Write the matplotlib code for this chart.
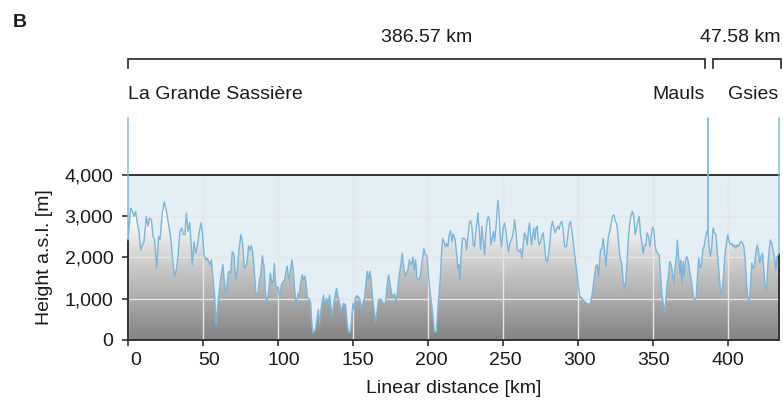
import numpy as np
import matplotlib
matplotlib.use("Agg")
import matplotlib.pyplot as plt
from matplotlib.colors import LinearSegmentedColormap
from matplotlib.transforms import ScaledTranslation, blended_transform_factory
from matplotlib.ticker import FuncFormatter

plt.rcParams['font.family'] = ['Liberation Sans', 'DejaVu Sans']

# ---------------- data ----------------
segment_lengths_km = [386.57, 47.58]
segment_labels = ['386.57 km', '47.58 km']
place_start, place_junction, place_end = 'La Grande Sassière', 'Mauls', 'Gsies'

seg1_km = [0.0, 1.8, 2.9, 4.0, 5.1, 6.2, 7.3, 8.4, 9.6, 10.7, 12.2, 13.3, 14.4, 15.6, 16.7, 17.8,
           19.1, 20.4, 21.3, 22.9, 24.2, 25.6, 26.9, 28.4, 29.8, 31.1, 32.4, 33.3, 34.7, 35.8, 36.9,
           38.0, 38.9, 40.0, 41.1, 42.2, 42.9, 44.0, 45.1, 46.2, 47.6, 48.7, 49.8, 50.7, 52.0, 52.9,
           53.8, 54.7, 55.6, 56.4, 57.8, 58.7, 59.8, 60.7, 62.0, 63.3, 64.0, 65.1, 66.2, 67.1, 68.4,
           69.6, 70.7]
seg1_m = [2420, 3190, 3110, 2990, 3110, 2830, 2630, 2180, 2300, 2380, 2990, 2750, 2950, 2910, 2500,
          2420, 1740, 2500, 2420, 3070, 3340, 3110, 2830, 2500, 1940, 1540, 1740, 2020, 2630, 2710,
          2550, 2550, 3070, 2630, 2840, 2260, 1820, 2380, 2100, 2260, 2630, 2840, 2500, 2060, 1940,
          1980, 1900, 1820, 1940, 1620, 1050, 360, 810, 1130, 1540, 1820, 1500, 1130, 1370, 1660,
          1620, 2140, 2060]

seg2_km = [71.8, 72.9, 74.0, 75.3, 76.4, 77.6, 78.7, 79.6, 80.4, 81.3, 82.2, 83.1, 84.0, 85.3, 86.7,
           87.6, 88.4, 89.6, 90.7, 91.6, 92.4, 93.6, 94.9, 96.0, 96.9, 97.6, 98.4, 99.1, 100.2, 101.1,
           102.2, 103.3, 104.4, 105.6, 106.2, 107.1, 108.2, 109.3, 110.2, 111.1, 112.2, 113.3, 114.0,
           115.1, 116.2, 117.1, 118.0, 118.9, 119.6, 120.7, 121.8, 122.4, 123.3, 124.2, 125.1, 126.0,
           126.9, 127.8, 128.7, 129.6, 130.4, 131.3, 132.4, 133.6, 134.4, 135.3, 136.2, 137.3, 138.2,
           139.1, 140.0, 141.3, 142.4, 143.6]
seg2_m = [1450, 1700, 2180, 2550, 2340, 1740, 1780, 1940, 2280, 2180, 2280, 2140, 1780, 1130, 1130,
          1450, 1540, 2040, 1780, 1210, 890, 1130, 1620, 1370, 1450, 1860, 1370, 1250, 1280, 1010,
          1330, 1410, 1450, 1700, 1780, 1450, 1660, 1940, 1700, 1250, 810, 1130, 1050, 1370, 1580,
          1450, 1550, 1330, 1010, 1010, 890, 490, 180, 200, 280, 490, 730, 360, 730, 930, 1090, 810,
          1010, 890, 1090, 810, 570, 890, 1090, 1250, 1050, 850, 690, 890]

seg3_km = [145.1, 146.2, 147.1, 148.2, 149.1, 150.0, 150.7, 151.6, 152.4, 153.6, 154.7, 155.8, 156.9,
           157.8, 158.7, 159.6, 160.4, 161.3, 162.2, 163.1, 164.4, 165.3, 166.2, 167.1, 168.4, 169.6,
           170.7, 171.8, 172.9, 173.8, 174.7, 175.8, 176.9, 177.8, 178.7, 179.6, 180.7, 181.8, 182.9,
           184.0, 185.1, 185.8, 186.7, 187.6, 188.4, 189.3, 190.0, 190.9, 191.8, 192.7, 193.8, 194.9,
           196.0, 197.3, 198.4, 199.3, 200.2, 201.3, 202.4, 203.6, 204.4, 205.6, 206.2, 207.1, 208.2,
           209.1, 209.8, 210.7, 211.6, 212.4, 213.3, 214.2, 215.1, 216.0, 216.9]
seg3_m = [850, 400, 180, 200, 490, 890, 730, 1010, 1070, 1050, 970, 730, 930, 1010, 1370, 1660, 1450,
          1660, 1450, 1010, 650, 440, 730, 970, 990, 930, 850, 930, 1370, 1580, 1370, 1120, 1050, 1120,
          910, 1130, 1540, 1780, 2100, 1700, 1540, 1620, 1700, 1940, 1820, 1880, 2000, 1700, 1940,
          1500, 1450, 1540, 1860, 2210, 2060, 2040, 1620, 1210, 890, 490, 200, 200, 490, 970, 1450,
          2100, 2460, 2380, 2260, 2330, 2260, 2550, 2650, 2380, 2570]

seg4_km = [218.2, 219.1, 220.0, 220.7, 221.3, 222.2, 223.1, 224.2, 225.1, 225.8, 226.7, 227.6, 228.4,
           229.3, 230.2, 231.1, 232.0, 232.9, 233.3, 234.2, 235.1, 236.0, 236.9, 237.8, 238.7, 239.6,
           240.4, 241.1, 242.0, 242.9, 243.8, 244.4, 245.3, 246.2, 246.7, 247.3, 248.2, 249.1, 250.2,
           251.1, 252.0, 252.9, 253.8, 254.7, 255.6, 256.4, 257.3, 257.8, 258.7, 259.6, 260.7, 261.8,
           262.7, 263.6, 264.4, 265.3, 266.2, 267.1, 267.8, 268.4, 269.1, 269.8, 270.7, 271.3, 272.2,
           272.9, 273.6, 274.2, 275.1, 276.0, 276.9, 277.8, 278.7, 279.6, 280.4, 281.3, 282.2, 283.1,
           284.0, 284.9, 285.8, 286.7, 287.6, 288.4, 289.3, 290.2, 291.1]
seg4_m = [2420, 2100, 1740, 1820, 1450, 2100, 2460, 2460, 2420, 2180, 2510, 2830, 2890, 2750, 2300,
          2260, 2630, 2910, 3070, 2670, 2180, 2750, 2380, 2060, 2590, 2910, 2990, 2870, 2300, 2460,
          2630, 2380, 2670, 3150, 3380, 3150, 2510, 2260, 2710, 2830, 2630, 2340, 2140, 2340, 2420,
          2510, 2710, 2910, 2630, 2180, 2140, 2200, 1980, 2300, 2590, 2510, 2300, 2670, 2830, 2550,
          2300, 2510, 2710, 2420, 2710, 2750, 2420, 2300, 2380, 2510, 2590, 2260, 1940, 1900, 2060,
          2340, 2710, 2870, 2710, 2590, 2680, 2750, 2680, 2830, 2870, 2670, 2300]

seg5_km = [291.6, 292.4, 293.3, 294.2, 295.1, 296.0, 296.9, 297.8, 298.7, 299.6, 300.4, 301.3, 302.2,
           303.1, 304.0, 304.9, 305.8, 306.7, 307.6, 308.4, 309.3, 310.2, 311.1, 312.0, 312.9, 313.8,
           314.4, 315.1, 316.0, 316.9, 317.8, 318.7, 319.6, 320.4, 321.3, 322.2, 323.1, 324.0, 324.9,
           325.8, 326.7, 327.6, 328.4, 329.3, 330.2, 331.1, 332.0, 332.9, 333.8, 334.7, 335.6, 336.4,
           337.3, 338.2, 339.1, 340.0, 340.9, 341.8, 342.7, 343.6, 344.4, 345.3, 346.2, 347.1, 348.0,
           348.9, 349.8, 350.7, 351.6, 352.4, 353.3, 354.2, 355.1, 356.0, 356.9, 357.8, 358.7, 359.6,
           360.4, 361.3, 362.2, 363.1]
seg5_m = [2250, 2260, 2510, 2790, 2870, 2630, 2380, 2100, 1820, 1540, 1290, 1070, 1030, 990, 950, 910,
          890, 870, 870, 890, 1050, 1290, 1540, 1780, 1820, 1540, 1820, 2180, 2200, 2460, 2180, 1780,
          2220, 2510, 2630, 2790, 2990, 3030, 2870, 2830, 2590, 2180, 1940, 1860, 1450, 1230, 1450,
          1940, 2510, 2830, 3030, 3110, 2990, 2550, 2680, 2870, 2990, 2550, 2340, 2100, 2300, 2280,
          2590, 2510, 2260, 2510, 2730, 2670, 2260, 2140, 2100, 2060, 1620, 1130, 890, 660, 970, 1370,
          1540, 1900, 1820, 1620]

seg6_km = [364.0, 364.9, 365.8, 366.4, 367.1, 368.0, 368.7, 369.3, 370.2, 370.9, 371.8, 372.7, 373.6,
           374.4, 375.3, 376.2, 377.1, 378.0, 378.9, 379.8, 380.7, 381.6, 382.4, 383.3, 384.2, 385.1,
           386.0, 386.9, 387.8, 388.4, 389.3, 390.2, 391.1, 392.0, 392.9, 393.8, 394.7, 395.6, 396.4,
           397.3, 398.2, 399.1, 400.0, 400.9, 401.8, 402.7, 403.6, 404.4, 405.3, 406.2, 407.1, 408.0,
           408.9, 409.8, 410.7, 411.6, 412.4, 413.3, 414.2, 415.1, 416.0, 416.9, 417.8, 418.7, 419.6,
           420.4, 421.3, 422.2, 423.1, 424.0, 424.9, 425.8, 426.7, 427.6, 428.4, 429.3, 430.2, 431.1,
           432.0, 432.9, 434.15]
seg6_m = [1370, 1780, 2020, 2420, 2020, 1620, 1940, 1370, 1900, 1540, 1940, 2020, 1900, 1700, 1540,
          1290, 1050, 950, 1050, 1540, 1980, 1740, 1780, 2180, 2260, 2460, 2630, 2550, 2180, 2020,
          2260, 2710, 2590, 2570, 2180, 1780, 1370, 1130, 1210, 1620, 2100, 2340, 2550, 2380, 2300,
          2340, 2260, 2300, 2220, 2300, 2260, 2340, 2380, 2340, 2260, 1940, 1450, 1050, 890, 1290,
          1860, 1740, 1780, 2100, 2300, 2180, 1860, 2020, 2100, 1700, 1290, 1210, 1780, 2180, 2420,
          2340, 2180, 2020, 1700, 2020, 2085]

x_ticks = [0, 50, 100, 150, 200, 250, 300, 350, 400]
y_ticks = [0, 1000, 2000, 3000, 4000]

# ---------------- assemble ----------------
dist = np.concatenate([seg1_km, seg2_km, seg3_km, seg4_km, seg5_km, seg6_km])
height = np.concatenate([seg1_m, seg2_m, seg3_m, seg4_m, seg5_m, seg6_m]).astype(float)
total = sum(segment_lengths_km)
junction = segment_lengths_km[0]

W, H = 783, 404
fig = plt.figure(figsize=(W / 100, H / 100), dpi=100)
ax = fig.add_axes([128 / W, 64 / H, 651 / W, 165.3 / H])

ymax = y_ticks[-1]
ax.set_facecolor('#e3eef5')

# gray gradient under the profile
grad = np.linspace(0, 1, 512).reshape(-1, 1)
cmap = LinearSegmentedColormap.from_list('relief', [(0.0, '#838383'), (0.5, '#d4d4d4'),
                                                    (0.75, '#ffffff'), (1.0, '#ffffff')])
im = ax.imshow(grad, cmap=cmap, origin='lower', extent=[0, total, 0, ymax],
               aspect='auto', zorder=1, interpolation='bilinear')
poly = ax.fill(np.concatenate([[0], dist, [total]]), np.concatenate([[0], height, [0]]),
               facecolor='none', edgecolor='none', zorder=1)[0]
im.set_clip_path(poly)

ax.set_xlim(0, total)
ax.set_ylim(0, ymax)

# grid
ax.set_axisbelow('line')
ax.grid(True, color='#e6e6e6', lw=1.0)

# profile line with vertical markers at the start, junction and end
top_frac = 1.343
line_color = '#7ab6d8'
ax.plot(np.concatenate([[0], dist, [total]]),
        np.concatenate([[ymax * top_frac], height, [ymax * top_frac]]),
        color=line_color, lw=1.0, clip_on=False, zorder=4)
h_junction = np.interp(junction, dist, height)
ax.plot([junction, junction], [h_junction, ymax * top_frac], color=line_color, lw=1.2,
        clip_on=False, zorder=4)

# spines
spine_c = '#333333'
for s in ['left', 'right', 'top', 'bottom']:
    ax.spines[s].set_color(spine_c)
    ax.spines[s].set_linewidth(1.4)
ax.spines['left'].set_bounds(0, height[0])
ax.spines['right'].set_bounds(0, height[-1])

ax.set_xticks(x_ticks)
ax.set_yticks(y_ticks)
ax.yaxis.set_major_formatter(FuncFormatter(lambda v, p: f'{v:,.0f}'))
ax.tick_params(axis='both', direction='out', length=4.5, width=1.2, color=spine_c,
               labelsize=14, labelcolor='#1a1a1a', pad=4)
ax.tick_params(axis='y', pad=6)

for lbl, val in zip(ax.get_xticklabels(), x_ticks):
    dx = (7.5 - 0.01875 * val) / 100.0
    lbl.set_transform(lbl.get_transform() + ScaledTranslation(dx, 0, fig.dpi_scale_trans))

ax.set_xlabel('Linear distance [km]', fontsize=14, color='#1a1a1a', labelpad=8)
ax.set_ylabel('Height a.s.l. [m]', fontsize=14, color='#1a1a1a', labelpad=8.5)

# brackets and labels above the plot
tr = blended_transform_factory(ax.transData, ax.transAxes)
y_bar, y_foot = 1.700, 1.645
br1 = (0, junction - 1.9)
br2 = (junction + 3.4, total + 1.2)
for a, b in [br1, br2]:
    ax.plot([a, a, b, b], [y_foot, y_bar, y_bar, y_foot], color='#222222', lw=1.2,
            transform=tr, clip_on=False, solid_joinstyle='miter')

txt_kw = dict(transform=tr, fontsize=14, color='#1a1a1a', va='baseline')
ax.text(junction / 2 + 6, 1.803, segment_labels[0], ha='center', **txt_kw)
ax.text(total + 0.7, 1.803, segment_labels[1], ha='right', **txt_kw)
ax.text(0, 1.46, place_start, ha='left', **txt_kw)
ax.text(junction - 1.9, 1.46, place_junction, ha='right', **txt_kw)
ax.text(total - 0.5, 1.46, place_end, ha='right', **txt_kw)

fig.text(13 / W, 1 - 27 / H, 'B', fontsize=14, fontweight='bold', color='#1a1a1a',
         va='baseline', ha='left')

fig.savefig('out.png', dpi=100)
